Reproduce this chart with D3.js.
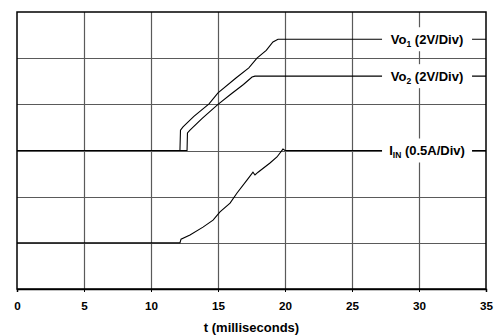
<!DOCTYPE html>
<html>
<head>
<meta charset="utf-8">
<script src="https://cdn.jsdelivr.net/npm/d3@7"></script>
<style>
  body { margin: 0; background: #fff; }
  svg { display: block; font-family: "Liberation Sans", Arial, sans-serif; }
</style>
</head>
<body>
<script>
"use strict"
/* tempi (ms) e divisioni di ogni traccia */
const tempiVo1 = [0, 12.16, 12.2, 12.39, 13.2, 14.33, 15.0, 16.34, 17.3, 17.91, 18.6, 19.1, 19.48, 35]
const valoriVo1 = [3, 3, 3.44, 3.51, 3.74, 4.01, 4.25, 4.57, 4.79, 5.0, 5.17, 5.35, 5.41, 5.41]
const tempiVo2 = [0, 12.69, 12.72, 12.91, 13.8, 15.0, 16.0, 16.9, 17.54, 17.76, 35]
const valoriVo2 = [3, 3, 3.38, 3.44, 3.69, 4.0, 4.23, 4.43, 4.59, 4.61, 4.61]
const tempiIin = [0, 12.16, 12.24, 12.91, 13.88, 14.63, 15.15, 15.9, 16.42, 17.16, 17.61, 17.76, 17.99, 18.88, 19.4, 19.85, 20.0, 35]
const valoriIin = [1, 1, 1.08, 1.17, 1.34, 1.49, 1.67, 1.86, 2.08, 2.36, 2.53, 2.47, 2.53, 2.73, 2.86, 3.03, 3.0, 3.0]
const ticksTempo = [0, 5, 10, 15, 20, 25, 30, 35]
const divisioni = [0, 1, 2, 3, 4, 5, 6]
/* etichette: testo, pedice, resto, divisione */
const etichette = [
    { nome: "Vo", pedice: "1", resto: " (2V/Div)", livello: 5.41 },
    { nome: "Vo", pedice: "2", resto: " (2V/Div)", livello: 4.61 },
    { nome: "I", pedice: "IN", resto: " (0.5A/Div)", livello: 3.0 }
]

const grafico = { larghezza: 494, altezza: 335 }
const margine = { sinistra: 17, destra: 8, alto: 12, basso: 46 }

const svg = d3.select("body").append("svg")
    .attr("width", grafico.larghezza)
    .attr("height", grafico.altezza)

const scalaX = d3.scaleLinear().domain([0, 35])
    .range([margine.sinistra, grafico.larghezza - margine.destra])
const scalaY = d3.scaleLinear().domain([0, 6])
    .range([grafico.altezza - margine.basso, margine.alto])

/* griglia */
svg.append("g").selectAll("line").data(ticksTempo.slice(1, -1)).enter()
    .append("line")
    .attr("x1", d => Math.round(scalaX(d)) + 0.5).attr("x2", d => Math.round(scalaX(d)) + 0.5)
    .attr("y1", scalaY(6)).attr("y2", scalaY(0))
    .attr("stroke", "#5a5a5a").attr("stroke-width", 1.2)
svg.append("g").selectAll("line").data(divisioni.slice(1, -1)).enter()
    .append("line")
    .attr("x1", scalaX(0)).attr("x2", scalaX(35))
    .attr("y1", d => Math.round(scalaY(d)) + 0.5).attr("y2", d => Math.round(scalaY(d)) + 0.5)
    .attr("stroke", "#5a5a5a").attr("stroke-width", 1.2)

/* tracce */
const linea = d3.line().x(d => scalaX(d[0])).y(d => scalaY(d[1]))
const tracce = [
    d3.zip(tempiVo1, valoriVo1),
    d3.zip(tempiVo2, valoriVo2),
    d3.zip(tempiIin, valoriIin)
]
svg.append("g").selectAll("path").data(tracce).enter()
    .append("path")
    .attr("d", linea)
    .attr("fill", "none")
    .attr("stroke", "#000")
    .attr("stroke-width", 1.1)

/* etichette con sfondo bianco */
const gruppiEtichette = svg.append("g").selectAll("g").data(etichette).enter()
    .append("g")
    .attr("transform", d => `translate(${scalaX(30.6)},${scalaY(d.livello)})`)
gruppiEtichette.append("rect")
    .attr("x", -45).attr("y", -12).attr("width", 90).attr("height", 24)
    .attr("fill", "#fff")
const testi = gruppiEtichette.append("text")
    .attr("text-anchor", "middle")
    .attr("y", 4.5)
    .attr("font-size", "13px")
    .attr("font-weight", "bold")
testi.append("tspan").text(d => d.nome)
testi.append("tspan").attr("font-size", "8.5px").attr("dy", 3).text(d => d.pedice)
testi.append("tspan").attr("dy", -3).text(d => d.resto)

/* cornice */
svg.append("rect")
    .attr("x", scalaX(0)).attr("y", scalaY(6))
    .attr("width", scalaX(35) - scalaX(0)).attr("height", scalaY(0) - scalaY(6))
    .attr("fill", "none").attr("stroke", "#000").attr("stroke-width", 1.5)

/* asse orizzontale */
const asseX = d3.axisBottom(scalaX).tickValues(ticksTempo).tickSize(3).tickPadding(10)
const gruppoAsseX = svg.append("g")
    .attr("transform", `translate(0,${scalaY(0)})`)
    .call(asseX)
gruppoAsseX.select(".domain").attr("stroke-width", 1.5)
gruppoAsseX.selectAll("text")
    .attr("font-family", "Liberation Sans, Arial, sans-serif")
    .attr("font-size", "11.7px").attr("font-weight", "bold").attr("fill", "#000")

svg.append("text")
    .attr("x", (scalaX(0) + scalaX(35)) / 2)
    .attr("y", 332)
    .attr("text-anchor", "middle")
    .attr("font-size", "13px").attr("font-weight", "bold")
    .text("t (milliseconds)")
</script>
</body>
</html>
